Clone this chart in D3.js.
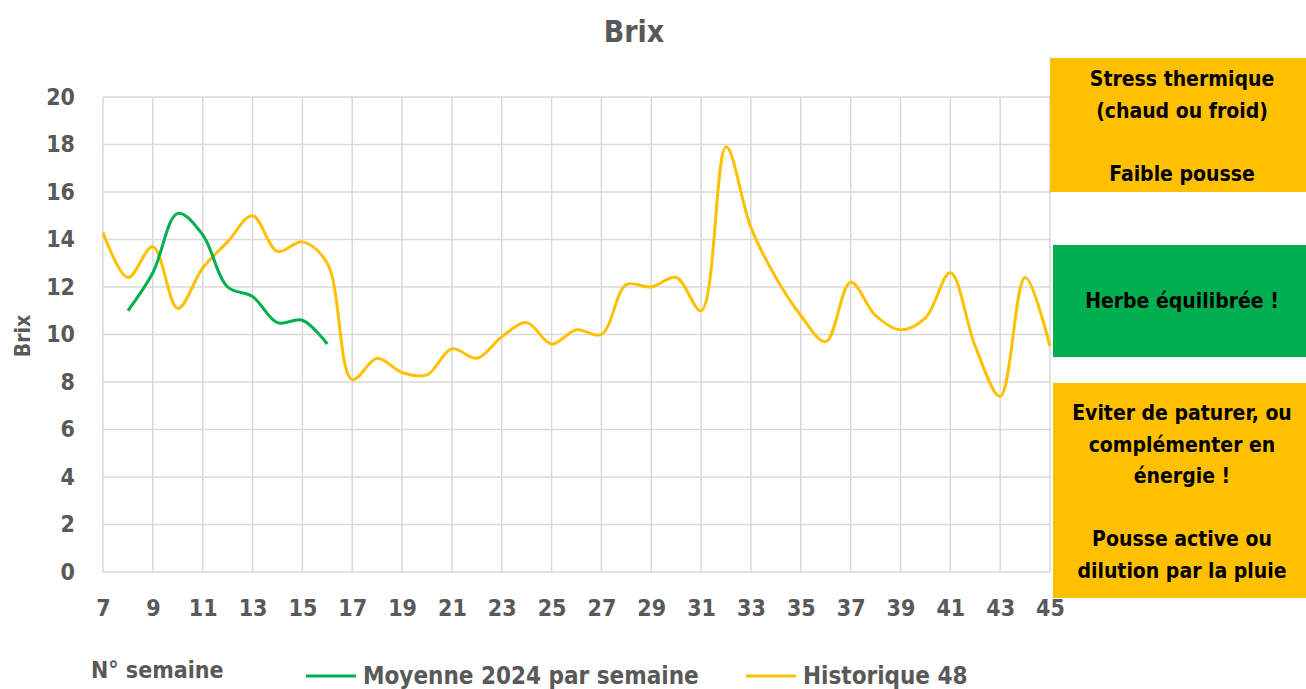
<!DOCTYPE html>
<html><head><meta charset="utf-8">
<script src="https://cdn.jsdelivr.net/npm/d3@7"></script>
<style>
body{margin:0;background:#fff;}
text{font-family:"Liberation Sans Narrow","DejaVu Sans Condensed","Liberation Sans",sans-serif;font-weight:bold;}
</style></head>
<body><svg id="c" width="1306" height="689"></svg>
<script>
const weeksHist = [7,8,9,10,11,12,13,14,15,16,17,18,19,20,21,22,23,24,25,26,27,28,29,30,31,32,33,34,35,36,37,38,39,40,41,42,43,44,45];
const histValues = [14.3,12.4,13.7,11.1,12.8,13.9,15.0,13.5,13.9,13.0,8.1,9.0,8.4,8.3,9.4,9.0,9.9,10.5,9.6,10.2,10.0,12.1,12.0,12.4,11.0,17.9,14.5,12.4,10.8,9.7,12.2,10.8,10.2,10.7,12.6,9.5,7.4,12.4,9.5];
const weeks2024 = [8,9,10,11,12,13,14,15,16];
const values2024 = [11.0,12.6,15.1,14.2,12.0,11.6,10.5,10.6,9.6];
const xTicks = [7,9,11,13,15,17,19,21,23,25,27,29,31,33,35,37,39,41,43,45];
const yTicks = [0,2,4,6,8,10,12,14,16,18,20];
const seriesNames = ["Moyenne 2024 par semaine","Historique 48"];
const boxTexts = [
  ["Stress thermique","(chaud ou froid)","","Faible pousse"],
  ["Herbe équilibrée !"],
  ["Eviter de paturer, ou","complémenter en","énergie !","","Pousse active ou","dilution par la pluie"]
];

const svg = d3.select("#c");
const x = d3.scaleLinear().domain([7,45]).range([103,1050]);
const y = d3.scaleLinear().domain([0,20]).range([572,97]);
const grey = "#595959", grid = "#d9d9d9";
const yellow = "#FFC000", green = "#00B050";

// grid
svg.append("g").selectAll("line").data(yTicks).join("line")
  .attr("x1",x(7)).attr("x2",x(45)).attr("y1",d=>y(d)).attr("y2",d=>y(d))
  .attr("stroke",grid).attr("stroke-width",1.5);
svg.append("g").selectAll("line").data(xTicks).join("line")
  .attr("x1",d=>x(d)).attr("x2",d=>x(d)).attr("y1",y(0)).attr("y2",y(20))
  .attr("stroke",grid).attr("stroke-width",1.5);

// axes labels
const yAxis = svg.append("g").attr("transform",`translate(${x(7)},0)`)
  .call(d3.axisLeft(y).tickValues(yTicks).tickSize(0).tickPadding(28));
yAxis.select(".domain").remove();
yAxis.selectAll("text").attr("fill",grey).style("font-size","23px");
const xAxis = svg.append("g").attr("transform",`translate(0,${y(0)})`)
  .call(d3.axisBottom(x).tickValues(xTicks).tickFormat(d3.format("d")).tickSize(0).tickPadding(28));
xAxis.select(".domain").remove();
xAxis.selectAll("text").attr("fill",grey).style("font-size","23px");

// lines
const line = d3.line().x(d=>x(d[0])).y(d=>y(d[1])).curve(d3.curveCatmullRom.alpha(0.5));
svg.append("path").datum(weeksHist.map((w,i)=>[w,histValues[i]]))
  .attr("d",line).attr("fill","none").attr("stroke",yellow).attr("stroke-width",3);
svg.append("path").datum(weeks2024.map((w,i)=>[w,values2024[i]]))
  .attr("d",line).attr("fill","none").attr("stroke",green).attr("stroke-width",3);

// title
svg.append("text").attr("x",634).attr("y",42).attr("text-anchor","middle")
  .attr("fill",grey).style("font-size","30px").text("Brix");
svg.append("text").attr("transform","translate(30,336) rotate(-90)").attr("text-anchor","middle")
  .attr("fill",grey).style("font-size","21px").text("Brix");
svg.append("text").attr("x",91).attr("y",678).attr("fill",grey).style("font-size","23px").text("N° semaine");

// legend
const leg = [{n:seriesNames[0],c:green,x:306},{n:seriesNames[1],c:yellow,x:746}];
leg.forEach(l=>{
  svg.append("line").attr("x1",l.x).attr("x2",l.x+50).attr("y1",676).attr("y2",676).attr("stroke",l.c).attr("stroke-width",3);
  svg.append("text").attr("x",l.x+57).attr("y",684).attr("fill",grey).style("font-size","24px").text(l.n);
});

// boxes
const boxes = [
  {x0:1050,y0:58,y1:192,c:yellow,t:boxTexts[0],ty:86},
  {x0:1053,y0:245,y1:357,c:green,t:boxTexts[1],ty:308},
  {x0:1053,y0:383,y1:598,c:yellow,t:boxTexts[2],ty:420}
];
boxes.forEach(b=>{
  svg.append("rect").attr("x",b.x0).attr("y",b.y0).attr("width",1306-b.x0).attr("height",b.y1-b.y0).attr("fill",b.c);
  b.t.forEach((s,i)=>{
    svg.append("text").attr("x",1182).attr("y",b.ty+i*31.5).attr("text-anchor","middle")
      .attr("fill","#000").style("font-size","21px").text(s);
  });
});
</script></body></html>
